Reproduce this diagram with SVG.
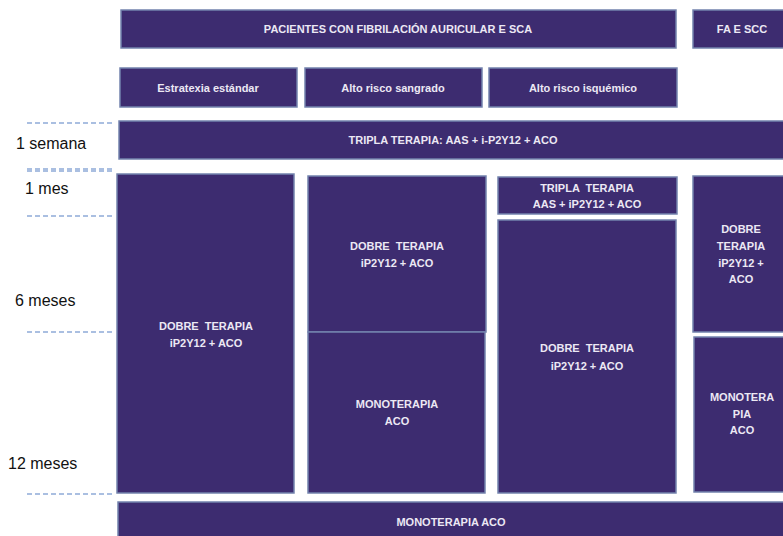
<svg xmlns="http://www.w3.org/2000/svg" width="783" height="536" viewBox="0 0 783 536">
<style>
.b{fill:#3d2c70;stroke:#7383ad;stroke-width:1.5}
.t{fill:#ece8f4;font-family:"Liberation Sans",Arial,sans-serif;font-weight:bold;font-size:11px;text-anchor:middle;dominant-baseline:central;white-space:pre}
.l{fill:#111;font-family:"Liberation Sans",Arial,sans-serif;font-size:16px;dominant-baseline:central}
.d{stroke:#8eaad8;stroke-width:1.3;stroke-dasharray:5 3;fill:none}
</style>
<rect width="783" height="536" fill="#fff"/>
<g id="timeline">
<line class="d" x1="27" y1="123" x2="112" y2="123"/>
<line class="d" x1="27" y1="169" x2="112" y2="169"/>
<line class="d" x1="27" y1="171" x2="112" y2="171"/>
<line class="d" x1="27" y1="216" x2="112" y2="216"/>
<line class="d" x1="27" y1="332" x2="112" y2="332"/>
<line class="d" x1="27" y1="494" x2="112" y2="494"/>
<text class="l" x="16" y="143">1 semana</text>
<text class="l" x="25" y="188">1 mes</text>
<text class="l" x="15" y="300">6 meses</text>
<text class="l" x="8" y="463">12 meses</text>
</g>
<g id="pacientes"><rect class="b" x="121" y="10" width="555" height="38"/><text class="t" x="398" y="29">PACIENTES CON FIBRILACIÓN AURICULAR E SCA</text></g>
<g id="fa-scc"><rect class="b" x="693" y="10" width="95" height="38"/><text class="t" x="742" y="29">FA E SCC</text></g>
<g id="estandar"><rect class="b" x="120" y="68" width="177" height="39"/><text class="t" x="208" y="88">Estratexia estándar</text></g>
<g id="sangrado"><rect class="b" x="305" y="68" width="177" height="39"/><text class="t" x="393" y="88">Alto risco sangrado</text></g>
<g id="isquemico"><rect class="b" x="489" y="68" width="188" height="39"/><text class="t" x="583" y="88">Alto risco isquémico</text></g>
<g id="tripla"><rect class="b" x="119" y="121" width="670" height="38"/><text class="t" x="453" y="140">TRIPLA TERAPIA: AAS + i-P2Y12 + ACO</text></g>
<g id="dobre1"><rect class="b" x="117" y="174" width="177" height="319"/><text class="t" x="206" y="326">DOBRE  TERAPIA</text><text class="t" x="206" y="343">iP2Y12 + ACO</text></g>
<g id="dobre2"><rect class="b" x="308" y="176" width="178" height="156"/><text class="t" x="397" y="246">DOBRE  TERAPIA</text><text class="t" x="397" y="263">iP2Y12 + ACO</text></g>
<g id="mono2"><rect class="b" x="308" y="332" width="177" height="161"/><text class="t" x="397" y="404">MONOTERAPIA</text><text class="t" x="397" y="421">ACO</text></g>
<g id="tripla3"><rect class="b" x="498" y="177" width="179" height="37"/><text class="t" x="587" y="188">TRIPLA  TERAPIA</text><text class="t" x="587" y="204">AAS + iP2Y12 + ACO</text></g>
<g id="dobre3"><rect class="b" x="498" y="220" width="178" height="273"/><text class="t" x="587" y="348">DOBRE  TERAPIA</text><text class="t" x="587" y="366">iP2Y12 + ACO</text></g>
<g id="dobre4"><rect class="b" x="693" y="176" width="95" height="156"/><text class="t" x="741" y="229">DOBRE</text><text class="t" x="741" y="246">TERAPIA</text><text class="t" x="741" y="263">iP2Y12 +</text><text class="t" x="741" y="279">ACO</text></g>
<g id="mono4"><rect class="b" x="694" y="337" width="94" height="155"/><text class="t" x="742" y="397">MONOTERA</text><text class="t" x="742" y="414">PIA</text><text class="t" x="742" y="430">ACO</text></g>
<g id="mono-final"><rect class="b" x="118" y="502" width="670" height="40"/><text class="t" x="451" y="522">MONOTERAPIA ACO</text></g>
<g id="connectors"/>
</svg>
